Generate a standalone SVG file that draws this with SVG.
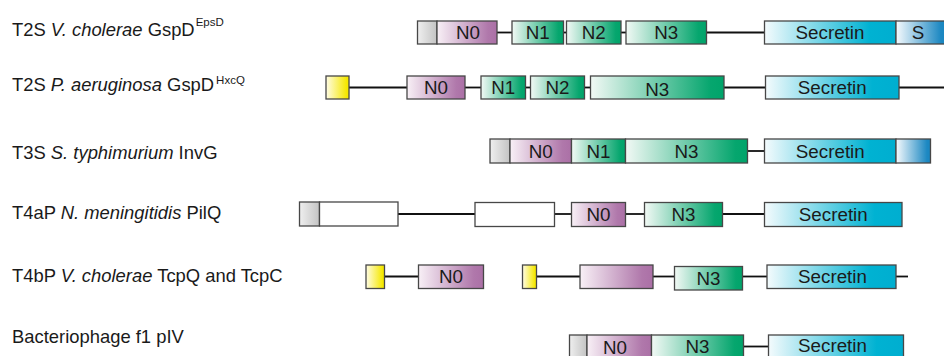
<svg xmlns="http://www.w3.org/2000/svg" width="944" height="356" viewBox="0 0 944 356">
<style>
  .lbl { font-family: "Liberation Sans", Arial, sans-serif; font-size: 18.4px; fill: #1a1a1a; }
  .sup { font-family: "Liberation Sans", Arial, sans-serif; font-size: 11.5px; fill: #1a1a1a; }
  .dom { font-family: "Liberation Sans", Arial, sans-serif; font-size: 18.8px; fill: #1a1a1a; text-anchor: middle; }
  .box { stroke: #474747; stroke-width: 1.3; }
  .grey { fill: url(#gGrey); }
  .yel { fill: url(#gYel); }
  .pink { fill: url(#gPink); }
  .green { fill: url(#gGreen); }
  .sec { fill: url(#gSec); }
  .blue { fill: url(#gBlue); }
  .white { fill: #ffffff; }
  .ln { stroke: #111111; stroke-width: 1.8; fill: none; }
</style>
<defs>
  <linearGradient id="gGrey" x1="0" y1="0" x2="1" y2="0"><stop offset="0" stop-color="#efefef"/><stop offset="1" stop-color="#c3c3c3"/></linearGradient>
  <linearGradient id="gYel" x1="0" y1="0" x2="1" y2="0"><stop offset="0" stop-color="#fffce6"/><stop offset="0.9" stop-color="#f5e800"/></linearGradient>
  <linearGradient id="gPink" x1="0" y1="0" x2="1" y2="0"><stop offset="0" stop-color="#f8f0f6"/><stop offset="0.85" stop-color="#b078ab"/><stop offset="1" stop-color="#ab70a6"/></linearGradient>
  <linearGradient id="gGreen" x1="0" y1="0" x2="1" y2="0"><stop offset="0" stop-color="#f2f9f5"/><stop offset="0.9" stop-color="#06a66e"/><stop offset="1" stop-color="#00a46a"/></linearGradient>
  <linearGradient id="gSec" x1="0" y1="0" x2="1" y2="0"><stop offset="0" stop-color="#f4fbfd"/><stop offset="0.8" stop-color="#00b2d2"/><stop offset="1" stop-color="#00aed0"/></linearGradient>
  <linearGradient id="gBlue" x1="0" y1="0" x2="1" y2="0"><stop offset="0" stop-color="#f6fafd"/><stop offset="0.9" stop-color="#1c88c2"/><stop offset="1" stop-color="#1a86c0"/></linearGradient>
</defs>

<g id="labels">
  <text class="lbl" x="12" y="36">T2S <tspan font-style="italic">V. cholerae</tspan> GspD<tspan class="sup" dx="1" dy="-10.5" font-size="11.5px">EpsD</tspan></text>
  <text class="lbl" x="12" y="91">T2S <tspan font-style="italic">P. aeruginosa</tspan> GspD<tspan class="sup" dx="2" dy="-7" font-size="11.5px">HxcQ</tspan></text>
  <text class="lbl" x="12" y="159">T3S <tspan font-style="italic">S. typhimurium</tspan> InvG</text>
  <text class="lbl" x="12" y="219">T4aP <tspan font-style="italic">N. meningitidis</tspan> PilQ</text>
  <text class="lbl" x="12" y="282">T4bP <tspan font-style="italic">V. cholerae</tspan> TcpQ and TcpC</text>
  <text class="lbl" x="12" y="343">Bacteriophage f1 pIV</text>
</g>

<g id="connectors">
  <!-- row 1 -->
  <line class="ln" x1="497" y1="32.5" x2="512" y2="32.5"/>
  <line class="ln" x1="563.5" y1="32.5" x2="566.5" y2="32.5"/>
  <line class="ln" x1="621" y1="32.5" x2="626" y2="32.5"/>
  <line class="ln" x1="706.5" y1="32.5" x2="764.5" y2="32.5"/>
  <!-- row 2 -->
  <line class="ln" x1="349" y1="87.5" x2="407" y2="87.5"/>
  <line class="ln" x1="465" y1="87.5" x2="481" y2="87.5"/>
  <line class="ln" x1="525.5" y1="87.5" x2="530.5" y2="87.5"/>
  <line class="ln" x1="584.5" y1="87.5" x2="590.5" y2="87.5"/>
  <line class="ln" x1="724" y1="87.5" x2="765.5" y2="87.5"/>
  <line class="ln" x1="899" y1="87.5" x2="944" y2="87.5"/>
  <!-- row 3 -->
  <line class="ln" x1="747.5" y1="151" x2="764.5" y2="151"/>
  <!-- row 4 -->
  <line class="ln" x1="398" y1="214" x2="475" y2="214"/>
  <line class="ln" x1="554.5" y1="214" x2="571.5" y2="214"/>
  <line class="ln" x1="625.5" y1="214" x2="644.5" y2="214"/>
  <line class="ln" x1="722.5" y1="214" x2="764.5" y2="214"/>
  <!-- row 5 -->
  <line class="ln" x1="384.5" y1="276.5" x2="418.5" y2="276.5"/>
  <line class="ln" x1="536.5" y1="276.5" x2="580" y2="276.5"/>
  <line class="ln" x1="653" y1="276.5" x2="674.5" y2="276.5"/>
  <line class="ln" x1="742.5" y1="276.5" x2="767" y2="276.5"/>
  <line class="ln" x1="896" y1="276.5" x2="908" y2="276.5"/>
  <!-- row 6 -->
  <line class="ln" x1="743.5" y1="346.5" x2="768.5" y2="346.5"/>
</g>

<!-- Row 1: T2S V. cholerae GspD -->
<g id="r1-tm"><rect class="box grey" x="417.5" y="21" width="19.5" height="23"/></g>
<g id="r1-n0"><rect class="box pink" x="437" y="21" width="60" height="23"/><text class="dom" x="468" y="39.3">N0</text></g>
<g id="r1-n1"><rect class="box green" x="512" y="21" width="51.5" height="23"/><text class="dom" x="537.8" y="39.3">N1</text></g>
<g id="r1-n2"><rect class="box green" x="566.5" y="21" width="54.5" height="23"/><text class="dom" x="593.8" y="39.3">N2</text></g>
<g id="r1-n3"><rect class="box green" x="626" y="21" width="80.5" height="23"/><text class="dom" x="666.2" y="39.3">N3</text></g>
<g id="r1-sec"><rect class="box sec" x="764.5" y="21" width="131.5" height="23"/><text class="dom" x="830" y="39.3">Secretin</text></g>
<g id="r1-s"><rect class="box blue" x="896" y="21" width="50" height="23"/><text class="dom" x="918" y="39.3">S</text></g>

<!-- Row 2: T2S P. aeruginosa GspD -->
<g id="r2-pilot"><rect class="box yel" x="326" y="76" width="23" height="23"/></g>
<g id="r2-n0"><rect class="box pink" x="407" y="76" width="58" height="23"/><text class="dom" x="436" y="94.3">N0</text></g>
<g id="r2-n1"><rect class="box green" x="481" y="76" width="44.5" height="23"/><text class="dom" x="503.3" y="94.3">N1</text></g>
<g id="r2-n2"><rect class="box green" x="530.5" y="76" width="54" height="23"/><text class="dom" x="557.5" y="94.3">N2</text></g>
<g id="r2-n3"><rect class="box green" x="590.5" y="76" width="133.5" height="23"/><text class="dom" x="657.3" y="96.3">N3</text></g>
<g id="r2-sec"><rect class="box sec" x="765.5" y="76" width="133.5" height="23"/><text class="dom" x="832.3" y="94.3">Secretin</text></g>

<!-- Row 3: T3S S. typhimurium InvG -->
<g id="r3-tm"><rect class="box grey" x="490" y="139" width="20" height="24"/></g>
<g id="r3-n0"><rect class="box pink" x="510" y="139" width="61.5" height="24"/><text class="dom" x="540.8" y="157.8">N0</text></g>
<g id="r3-n1"><rect class="box green" x="571.5" y="139" width="54" height="24"/><text class="dom" x="598.5" y="157.8">N1</text></g>
<g id="r3-n3"><rect class="box green" x="625.5" y="139" width="122" height="24"/><text class="dom" x="686.5" y="157.8">N3</text></g>
<g id="r3-sec"><rect class="box sec" x="764.5" y="139" width="131.5" height="24"/><text class="dom" x="830.3" y="157.8">Secretin</text></g>
<g id="r3-s"><rect class="box blue" x="896" y="139" width="34.5" height="24"/></g>

<!-- Row 4: T4aP N. meningitidis PilQ -->
<g id="r4-tm"><rect class="box grey" x="299.5" y="202" width="20" height="24"/></g>
<g id="r4-amin1"><rect class="box white" x="319.5" y="202" width="78.5" height="24"/></g>
<g id="r4-amin2"><rect class="box white" x="475" y="202.5" width="79.5" height="24"/></g>
<g id="r4-n0"><rect class="box pink" x="571.5" y="202.5" width="54" height="24"/><text class="dom" x="598.5" y="221.3">N0</text></g>
<g id="r4-n3"><rect class="box green" x="644.5" y="202.5" width="78" height="24"/><text class="dom" x="683.5" y="221.3">N3</text></g>
<g id="r4-sec"><rect class="box sec" x="764.5" y="202.5" width="137.5" height="24"/><text class="dom" x="833.3" y="221.3">Secretin</text></g>

<!-- Row 5: T4bP V. cholerae TcpQ and TcpC -->
<g id="r5-pilot1"><rect class="box yel" x="366" y="265" width="18.5" height="23.5"/></g>
<g id="r5-n0"><rect class="box pink" x="418.5" y="265" width="65" height="23.5"/><text class="dom" x="451" y="283.3">N0</text></g>
<g id="r5-pilot2"><rect class="box yel" x="522.5" y="265" width="14" height="23.5"/></g>
<g id="r5-n0b"><rect class="box pink" x="580" y="265" width="73" height="23.5"/></g>
<g id="r5-n3"><rect class="box green" x="674.5" y="266.5" width="68" height="23.5"/><text class="dom" x="708.5" y="284.8">N3</text></g>
<g id="r5-sec"><rect class="box sec" x="767" y="265" width="129" height="23.5"/><text class="dom" x="832.5" y="283.3">Secretin</text></g>

<!-- Row 6: Bacteriophage f1 pIV -->
<g id="r6-tm"><rect class="box grey" x="569.5" y="335" width="17.5" height="24"/></g>
<g id="r6-n0"><rect class="box pink" x="587" y="335" width="64.5" height="24"/><text class="dom" x="615" y="353.8">N0</text></g>
<g id="r6-n3"><rect class="box green" x="651.5" y="335" width="92" height="24"/><text class="dom" x="697.5" y="352.8">N3</text></g>
<g id="r6-sec"><rect class="box sec" x="768.5" y="335" width="135" height="24"/><text class="dom" x="832.5" y="352.3">Secretin</text></g>
</svg>
